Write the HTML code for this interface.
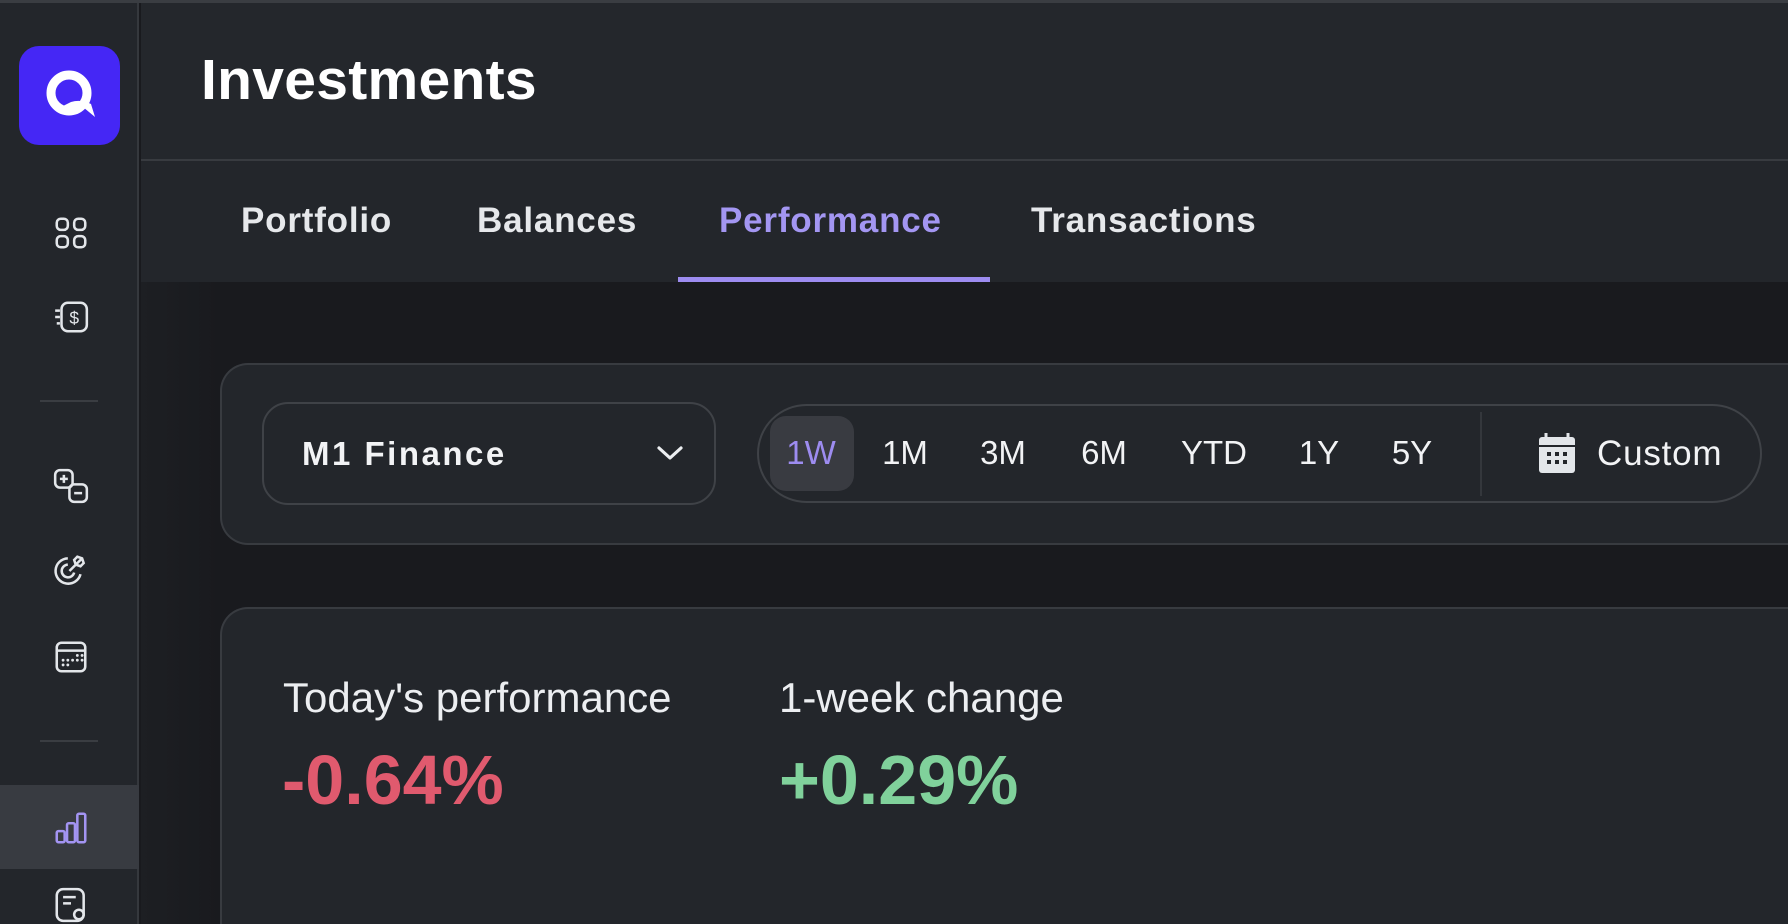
<!DOCTYPE html>
<html><head><meta charset="utf-8"><style>
*{margin:0;padding:0;box-sizing:border-box}
html,body{width:1788px;height:924px;overflow:hidden}
body{background:#191a1e;font-family:"Liberation Sans",sans-serif;color:#eceef1}
#wrap{position:relative;width:1788px;height:924px;overflow:hidden}
.abs{position:absolute}
#side{left:0;top:0;width:139px;height:924px;background:#23262b;border-right:2px solid #35383d}
#top{left:0;top:0;width:1788px;height:3px;background:#3a3d42;z-index:5}
#logo{left:19px;top:46px;width:101px;height:99px;border-radius:20px;background:#4527f5}
.ico{position:absolute;left:52px;width:38px;height:38px}
.div{position:absolute;left:40px;width:58px;height:2px;background:#3a3d42}
#hdr{left:141px;top:0;width:1647px;height:161px;background:#24272c;border-bottom:2px solid #383b40}
#tabs{left:141px;top:161px;width:1647px;height:121px;background:#23262b}
.tab{position:absolute;top:201px;font-size:35px;font-weight:bold;letter-spacing:0.8px;color:#e6e8eb}
.card{position:absolute;background:#23262b;border:2px solid #383b40;border-radius:28px}
.rng{position:absolute;top:434px;font-size:33px;color:#f2f3f5;transform:translateX(-50%)}
</style></head><body><div id="wrap">
<div id="top" class="abs"></div>
<div id="side" class="abs">
 <div id="logo" class="abs">
  <svg width="101" height="99" viewBox="0 0 101 99"><circle cx="50" cy="47" r="18" fill="none" stroke="#fff" stroke-width="9"/><path d="M36 64 Q52 60 64 61 L76 71 L72 58 Q62 53 52 56 Z" fill="#fff"/></svg>
 </div>
 <svg class="ico" style="top:214px" viewBox="0 0 24 24" fill="none" stroke="#e3e6ea" stroke-width="1.6"><rect x="3" y="3" width="7" height="7" rx="2.5"/><rect x="14" y="3" width="7" height="7" rx="2.5"/><rect x="3" y="14" width="7" height="7" rx="2.5"/><rect x="14" y="14" width="7" height="7" rx="2.5"/></svg>
 <svg class="ico" style="top:298px" viewBox="0 0 24 24" fill="none" stroke="#e3e6ea" stroke-width="1.6"><rect x="6" y="3" width="16" height="18" rx="4"/><path d="M2 8h3M2 12h3M3 16h2"/><text x="14" y="16.5" font-size="11" text-anchor="middle" fill="#e3e6ea" stroke="none" font-family="Liberation Sans">$</text></svg>
 <div class="div" style="top:400px"></div>
 <svg class="ico" style="top:467px" viewBox="0 0 24 24" fill="none" stroke="#e3e6ea" stroke-width="1.6"><rect x="2" y="2" width="11" height="11" rx="3"/><rect x="11" y="11" width="11" height="11" rx="3"/><path d="M7.5 5v5M5 7.5h5M14 16.5h5"/></svg>
 <svg class="ico" style="top:552px" viewBox="0 0 24 24" fill="none" stroke="#e3e6ea" stroke-width="1.6"><path d="M18 14a8 8 0 1 1-8-10"/><path d="M14 13a4 4 0 1 1-4-5"/><path d="M11 12l8-8M16 3l3 1 1 3-2 2-3-1-1-3z"/></svg>
 <svg class="ico" style="top:638px" viewBox="0 0 24 24" fill="none" stroke="#e3e6ea" stroke-width="1.6"><rect x="3" y="3" width="18" height="18" rx="3"/><path d="M3 8h18"/><g stroke-width="1.8" stroke-linecap="round"><path d="M7 17h0M10 17h0M10 14h0M13 14h0M16 14h0M16 11h0M19 11h0M19 14h0M7 14h0"/></g></svg>
 <div class="div" style="top:740px"></div>
 <div class="abs" style="left:0;top:785px;width:139px;height:84px;background:#383b41"></div>
 <svg class="ico" style="top:809px" viewBox="0 0 24 24" fill="none" stroke="#a394f2" stroke-width="1.6"><rect x="3" y="14" width="5" height="7" rx="1"/><rect x="9.5" y="9" width="5" height="12" rx="1"/><rect x="16" y="3" width="5" height="18" rx="1"/></svg>
 <svg class="ico" style="top:886px;height:38px;clip-path:inset(0 0 0 0)" viewBox="0 0 24 24" fill="none" stroke="#e3e6ea" stroke-width="1.6"><rect x="3" y="2" width="17" height="20" rx="4"/><path d="M7 7h8M7 11h5"/><circle cx="17" cy="18" r="3"/></svg>
</div>
<div id="hdr" class="abs"><div class="abs" style="left:60px;top:47px;font-size:57px;font-weight:bold;color:#fff;letter-spacing:0.3px">Investments</div></div>
<div id="tabs" class="abs"></div>
<div class="abs" style="left:141px;top:282px;width:80px;height:642px;background:linear-gradient(90deg,#1d1f23,#191a1e)"></div>
<div class="tab" style="left:241px">Portfolio</div>
<div class="tab" style="left:477px">Balances</div>
<div class="tab" style="left:719px;color:#a396f2">Performance</div>
<div class="tab" style="left:1031px">Transactions</div>
<div class="abs" style="left:678px;top:277px;width:312px;height:5px;background:#9d8cf0"></div>

<div class="card" style="left:220px;top:363px;width:1568px;height:182px;border-right:none;border-radius:28px 0 0 28px"></div>
<div class="abs" style="left:262px;top:402px;width:454px;height:103px;border:2px solid #3f4247;border-radius:26px"></div>
<div class="abs" style="left:302px;top:435px;font-size:33px;font-weight:bold;letter-spacing:2.5px;color:#f2f3f5">M1 Finance</div>
<svg class="abs" style="left:656px;top:443px" width="28" height="20" viewBox="0 0 28 20"><path d="M3 5l11 10 11-10" fill="none" stroke="#eceef1" stroke-width="3.2" stroke-linecap="round" stroke-linejoin="round"/></svg>
<div class="abs" style="left:757px;top:404px;width:1005px;height:99px;border:2px solid #3f4247;border-radius:50px"></div>
<div class="abs" style="left:770px;top:416px;width:84px;height:75px;border-radius:16px;background:#393b41"></div>
<div class="rng" style="left:811px;color:#9d8cf0">1W</div>
<div class="rng" style="left:905px">1M</div>
<div class="rng" style="left:1003px">3M</div>
<div class="rng" style="left:1104px">6M</div>
<div class="rng" style="left:1214px">YTD</div>
<div class="rng" style="left:1319px">1Y</div>
<div class="rng" style="left:1412px">5Y</div>
<div class="abs" style="left:1480px;top:412px;width:2px;height:84px;background:#34373c"></div>
<svg class="abs" style="left:1537px;top:432px" width="40" height="42" viewBox="0 0 40 42"><rect x="2" y="5" width="36" height="36" rx="3" fill="#e3e6ea"/><path d="M9 1v7M31 1v7" stroke="#e3e6ea" stroke-width="3"/><g fill="#23262b"><rect x="2" y="13" width="36" height="2"/><rect x="10" y="20" width="4" height="4"/><rect x="18" y="20" width="4" height="4"/><rect x="26" y="20" width="4" height="4"/><rect x="10" y="28" width="4" height="4"/><rect x="18" y="28" width="4" height="4"/><rect x="26" y="28" width="4" height="4"/></g></svg>
<div class="abs" style="left:1597px;top:434px;font-size:35px;color:#f2f3f5;letter-spacing:0.8px">Custom</div>

<div class="card" style="left:220px;top:607px;width:1568px;height:317px;border-right:none;border-bottom:none;border-radius:28px 0 0 0"></div>
<div class="abs" style="left:283px;top:674px;font-size:42px;color:#eceef1">Today's performance</div>
<div class="abs" style="left:779px;top:674px;font-size:42px;color:#eceef1">1-week change</div>
<div class="abs" style="left:282px;top:740px;font-size:70px;font-weight:bold;color:#e05a6e">-0.64%</div>
<div class="abs" style="left:779px;top:740px;font-size:70px;font-weight:bold;color:#80d19b">+0.29%</div>
</div></body></html>
